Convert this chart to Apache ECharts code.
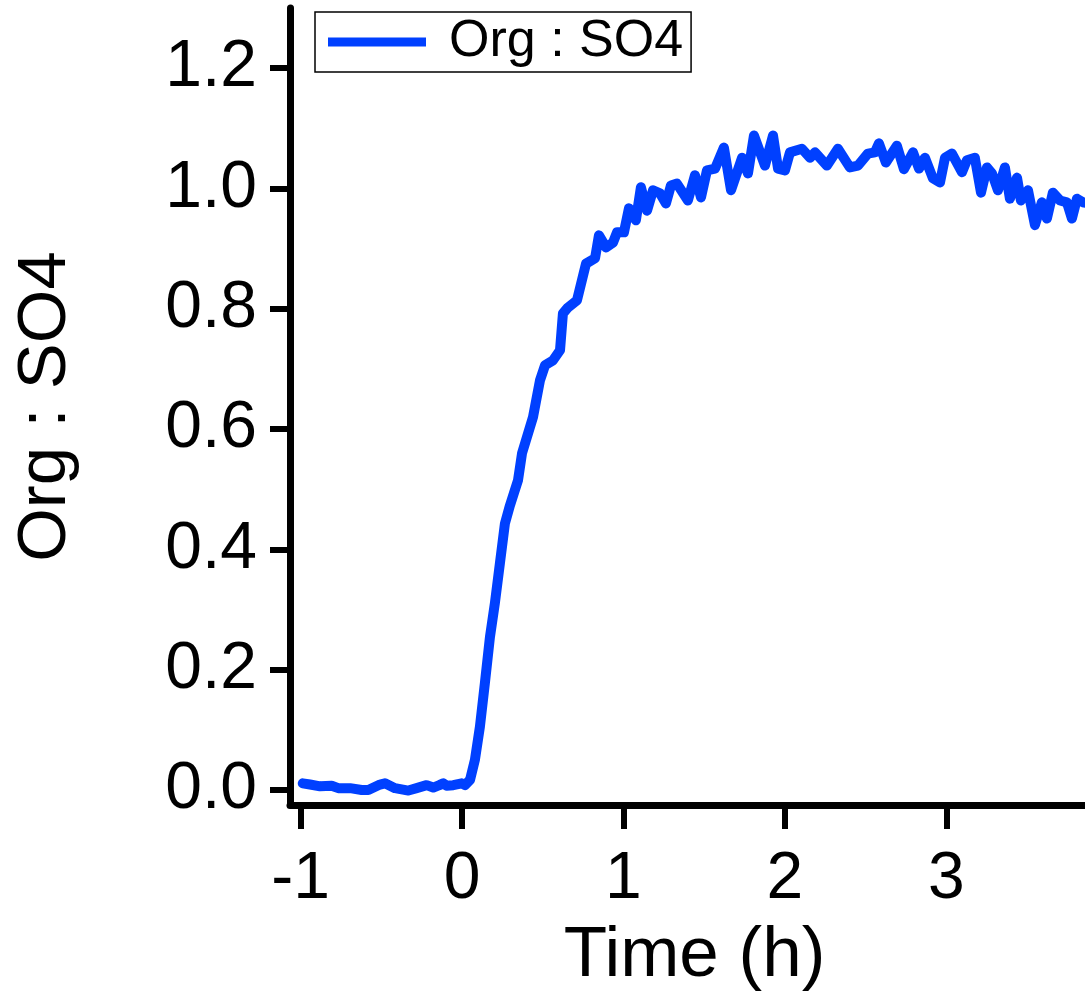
<!DOCTYPE html>
<html>
<head>
<meta charset="utf-8">
<script src="https://cdn.jsdelivr.net/npm/echarts@6/dist/echarts.min.js"></script>
<style>
html,body{margin:0;padding:0;background:#fff;}
#chart{width:1085px;height:1000px;}
</style>
</head>
<body>
<div id="chart"></div>
<script>
const seriesName = 'Org : SO4';
const xTickValues = [-1, 0, 1, 2, 3];
const yTickValues = [0, 0.2, 0.4, 0.6, 0.8, 1.0, 1.2];
const timeH = [
 -0.986,-0.941,-0.879,-0.807,-0.766,-0.693,-0.621,-0.580,-0.508,-0.477,-0.415,-0.332,-0.281,-0.219,-0.178,-0.140,-0.116,-0.095,-0.054,-0.002,
 0.019,0.050,0.080,0.111,0.142,0.173,0.204,0.235,0.266,0.297,0.347,0.372,0.440,0.483,0.514,0.563,0.607,0.625,0.656,0.712,
 0.768,0.824,0.848,0.892,0.935,0.960,1.003,1.034,1.077,1.108,1.146,1.183,1.226,1.263,1.294,1.331,1.399,1.443,1.480,1.517,
 1.567,1.622,1.666,1.734,1.771,1.808,1.876,1.926,1.957,2.000,2.031,2.105,2.155,2.186,2.260,2.328,2.402,2.452,2.514,2.557,
 2.582,2.625,2.693,2.737,2.793,2.830,2.867,2.916,2.960,2.991,3.034,3.096,3.127,3.176,3.214,3.251,3.282,3.319,3.362,3.393,
 3.437,3.461,3.505,3.548,3.591,3.622,3.659,3.703,3.746,3.777,3.808,3.845,3.880
];
const orgSO4 = [
 0.011,0.009,0.006,0.007,0.003,0.003,0.000,0.000,0.009,0.011,0.003,-0.001,0.003,0.008,0.004,0.008,0.011,0.007,0.008,0.011,
 0.008,0.017,0.050,0.105,0.178,0.254,0.311,0.377,0.443,0.473,0.515,0.560,0.620,0.681,0.706,0.714,0.731,0.792,0.802,0.814,
 0.875,0.884,0.922,0.902,0.910,0.927,0.927,0.967,0.947,1.002,0.963,0.997,0.992,0.975,1.005,1.008,0.980,1.022,0.985,1.030,
 1.033,1.068,0.997,1.051,1.025,1.088,1.038,1.088,1.033,1.030,1.060,1.066,1.051,1.060,1.038,1.066,1.035,1.038,1.058,1.060,
 1.075,1.043,1.071,1.032,1.060,1.033,1.051,1.017,1.010,1.051,1.058,1.027,1.047,1.051,0.993,1.035,1.025,0.997,1.035,0.983,
 1.018,0.980,0.997,0.939,0.977,0.950,0.993,0.980,0.977,0.950,0.983,0.977,0.975
];
const points = timeH.map((t, i) => [t, orgSO4[i]]);
const blue = '#0040ff';
const font = 'Liberation Sans, Arial, sans-serif';

const chart = echarts.init(document.getElementById('chart'), null, {renderer: 'canvas'});
chart.setOption({
  animation: false,
  backgroundColor: '#fff',
  grid: {left: 290, right: 0, top: 8, bottom: 195, containLabel: false},
  legend: {
    left: 315, top: 12,
    data: [{name: seriesName, icon: 'rect'}],
    itemWidth: 98, itemHeight: 9,
    borderColor: '#000', borderWidth: 1.5,
    padding: [4, 8, 4, 13],
    textStyle: {fontFamily: font, fontSize: 52, color: '#000', padding: [0, 0, 0, 18]}
  },
  xAxis: {
    type: 'value', min: -1.065, max: 3.858,
    name: 'Time (h)', nameLocation: 'middle', nameGap: 116,
    nameTextStyle: {fontFamily: font, fontSize: 71, color: '#000', padding: [0, 0, 0, 14]},
    axisLine: {show: true, onZero: false, lineStyle: {color: '#000', width: 7}},
    axisTick: {show: true, customValues: xTickValues, length: 24, lineStyle: {color: '#000', width: 6}},
    axisLabel: {customValues: xTickValues, margin: 42, fontFamily: font, fontSize: 66, color: '#000',
      formatter: v => String(v)},
    splitLine: {show: false}
  },
  yAxis: {
    type: 'value', min: -0.025, max: 1.3,
    name: seriesName, nameLocation: 'middle', nameGap: 210,
    nameTextStyle: {fontFamily: font, fontSize: 69, color: '#000'},
    axisLine: {show: true, onZero: false, lineStyle: {color: '#000', width: 7}},
    axisTick: {show: true, customValues: yTickValues, length: 20, lineStyle: {color: '#000', width: 6}},
    axisLabel: {customValues: yTickValues, margin: 33, fontFamily: font, fontSize: 66, color: '#000',
      formatter: v => v.toFixed(1)},
    splitLine: {show: false}
  },
  series: [{
    name: seriesName, type: 'line', data: points,
    showSymbol: false, symbol: 'none', clip: true,
    color: blue,
    lineStyle: {color: blue, width: 10, cap: 'round', join: 'round'},
    itemStyle: {color: blue}
  }]
});
</script>
</body>
</html>
